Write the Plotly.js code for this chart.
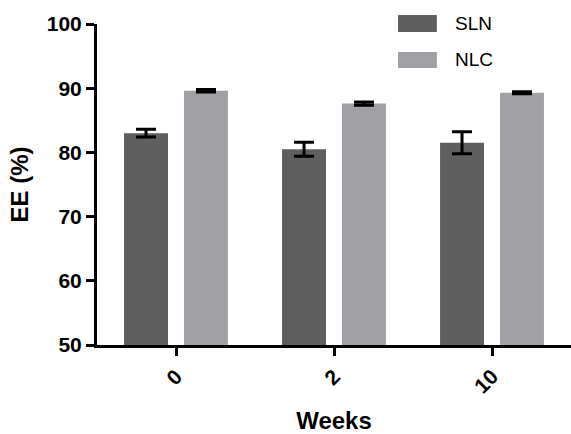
<!DOCTYPE html>
<html>
<head>
<meta charset="utf-8">
<script src="https://cdn.plot.ly/plotly-3.0.1.min.js"></script>
<style>html,body{margin:0;padding:0;background:#fff;}#chart{width:571px;height:434px;}</style>
</head>
<body>
<div id="chart"></div>
<script>
const weeks = ["0", "2", "10"];
const seriesNames = ["SLN", "NLC"];
const slnValues = [83.0, 80.5, 81.5];
const slnErrors = [0.6, 1.1, 1.7];
const nlcValues = [89.6, 87.6, 89.3];
const nlcErrors = [0.2, 0.25, 0.15];
const yTicks = [50, 60, 70, 80, 90, 100];

const colors = ["#5f5f5f", "#a1a0a5"];
const font = "Liberation Sans, Arial, sans-serif";

function barTrace(name, vals, errs, color) {
  return {
    type: "bar", name: name, x: weeks, y: vals,
    marker: {color: color, line: {width: 0}},
    error_y: {type: "data", array: errs, visible: true, color: "#000", thickness: 3, width: 10},
    showlegend: false, hoverinfo: "skip"
  };
}

const data = [
  barTrace(seriesNames[0], slnValues, slnErrors, colors[0]),
  barTrace(seriesNames[1], nlcValues, nlcErrors, colors[1])
];

// custom legend (swatch + text) in paper coordinates
const legendRows = [{y0: 0.975, y1: 1.028, ty: 1.001}, {y0: 0.863, y1: 0.913, ty: 0.888}];
const shapes = legendRows.map((r, i) => ({
  type: "rect", xref: "paper", yref: "paper", x0: 0.635, x1: 0.717, y0: r.y0, y1: r.y1,
  fillcolor: colors[i], line: {width: 0}
}));
const annotations = legendRows.map((r, i) => ({
  xref: "paper", yref: "paper", x: 0.752, y: r.ty, xanchor: "left", yanchor: "middle",
  text: seriesNames[i], showarrow: false, font: {family: font, size: 19, color: "#000"}
}));

const layout = {
  width: 571, height: 434,
  margin: {l: 97, r: 0, t: 24, b: 89, pad: 0},
  paper_bgcolor: "#fff", plot_bgcolor: "#fff",
  barmode: "group", bargap: 0.241, bargroupgap: 0.267,
  showlegend: false,
  xaxis: {
    type: "category", range: [-0.5, 2.5],
    showline: true, linecolor: "#000", linewidth: 3,
    ticks: "outside", ticklen: 8, tickwidth: 3, tickcolor: "#000",
    tickangle: -45, showgrid: false, zeroline: false,
    tickfont: {family: font, size: 21, color: "#000", weight: "bold"},
    title: {text: "<b>Weeks</b>", font: {family: font, size: 24, color: "#000"}, standoff: 18}
  },
  yaxis: {
    range: [50, 100], tickvals: yTicks, ticktext: yTicks.map(String),
    showline: true, linecolor: "#000", linewidth: 3,
    ticks: "outside", ticklen: 8, tickwidth: 3, tickcolor: "#000",
    showgrid: false, zeroline: false,
    tickfont: {family: font, size: 21, color: "#000", weight: "bold"},
    title: {text: "<b>EE (%)</b>", font: {family: font, size: 24, color: "#000"}, standoff: 12}
  },
  shapes: shapes,
  annotations: annotations
};

Plotly.newPlot("chart", data, layout, {displayModeBar: false, staticPlot: true});
</script>
</body>
</html>
